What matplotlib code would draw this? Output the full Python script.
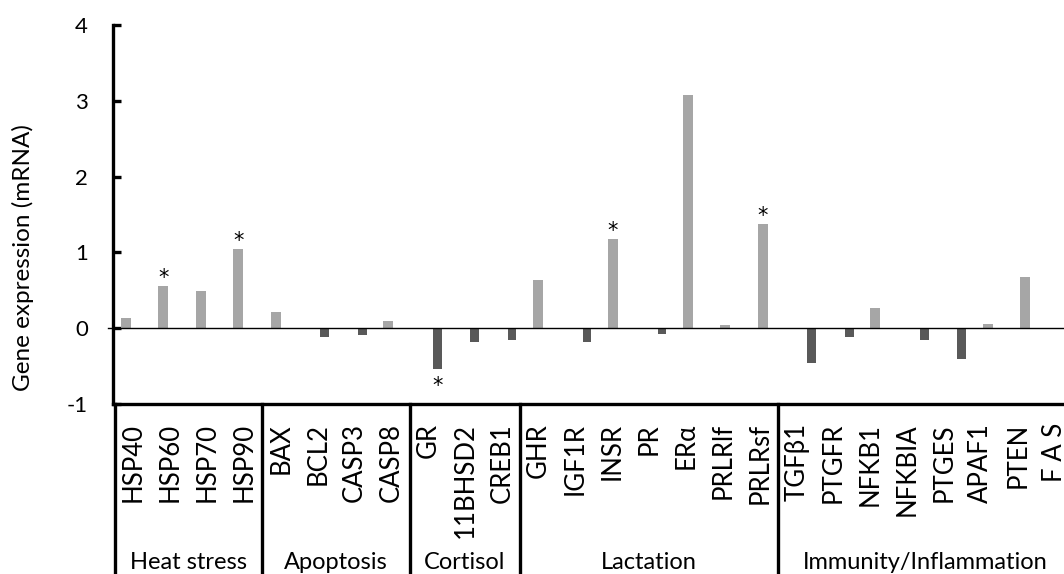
import matplotlib
matplotlib.use("Agg")
import matplotlib.pyplot as plt
import numpy as np

plt.rcParams['font.family'] = ['Lato', 'DejaVu Sans']
plt.rcParams['axes.unicode_minus'] = False

# Genes, their functional groups and fold change of mRNA expression
genes = ["HSP40", "HSP60", "HSP70", "HSP90",
         "BAX", "BCL2", "CASP3", "CASP8",
         "GR", "11BHSD2", "CREB1",
         "GHR", "IGF1R", "INSR", "PR", "ERα", "PRLRlf", "PRLRsf",
         "TGFβ1", "PTGFR", "NFKB1", "NFKBIA", "PTGES", "APAF1", "PTEN", "F A S"]
expression = [0.13, 0.56, 0.49, 1.05,
              0.21, -0.11, -0.09, 0.10,
              -0.54, -0.18, -0.15,
              0.64, -0.18, 1.18, -0.08, 3.08, 0.04, 1.37,
              -0.46, -0.11, 0.27, -0.15, -0.41, 0.05, 0.68, -0.12]
significant = [False, True, False, True,
               False, False, False, False,
               True, False, False,
               False, False, True, False, False, False, True,
               False, False, False, False, False, False, False, False]
groups = ["Heat stress", "Apoptosis", "Cortisol", "Lactation", "Immunity/Inflammation"]
group_sizes = [4, 4, 3, 7, 8]

W, H = 1064, 574
fig = plt.figure(figsize=(W / 100, H / 100), dpi=100)

# main plotting area (wider than the canvas: the last category runs off the edge)
ax = fig.add_axes([113 / W, (H - 404) / H, 974 / W, 379 / H])
n = len(genes)
x = np.arange(n)
vals = np.array(expression)
pos = np.where(vals > 0, vals, 0.0)
neg = np.where(vals < 0, vals, 0.0)
ax.bar(x - 0.154, pos, width=0.27, color="#a6a6a6", zorder=2)
ax.bar(x + 0.154, neg, width=0.23, color="#595959", zorder=2)

for i, (v, s) in enumerate(zip(vals, significant)):
    if not s:
        continue
    if v > 0:
        ax.annotate("*", (x[i] - 0.154, v), xytext=(0, 1.5), textcoords="offset points",
                    ha="center", va="baseline", fontsize=15, family="DejaVu Sans")
    else:
        ax.annotate("*", (x[i] + 0.154, v), xytext=(0, -16.5), textcoords="offset points",
                    ha="center", va="baseline", fontsize=15, family="DejaVu Sans")

ax.axhline(0, color="black", lw=1.0, xmin=-0.005, clip_on=False, zorder=3)
ax.set_xlim(-0.5, n - 0.5)
ax.set_ylim(-1, 4)
ax.set_yticks([-1, 0, 1, 2, 3, 4])
ax.set_xticks([])
for side in ("top", "right"):
    ax.spines[side].set_visible(False)
for side in ("left", "bottom"):
    ax.spines[side].set_linewidth(2.4)
ax.tick_params(axis="y", direction="in", length=6, width=2.4, pad=18, labelsize=16)

fig.text(23 / W, 1 - 258 / H, "Gene expression (mRNA)", rotation=90,
         ha="center", va="center", fontsize=17.5)

# category axis box below the plot
lab = fig.add_axes([115 / W, 0, 958 / W, (H - 404) / H])
lab.set_xlim(-0.5, n - 0.5)
lab.set_ylim(0, 1)
lab.axis("off")
for i, g in enumerate(genes):
    lab.text(i, 0.888, g, rotation=90, ha="center", va="top", fontsize=18.5)

bounds = np.concatenate([[0], np.cumsum(group_sizes)]) - 0.5
for b in bounds:
    lab.plot([b, b], [0, 1], color="black", lw=2.4, clip_on=False)
for gname, lo, hi in zip(groups, bounds[:-1], bounds[1:]):
    lab.text((lo + hi) / 2, 5.0 / 170, gname, ha="center", va="baseline", fontsize=17)

fig.savefig("out.png", dpi=100)
